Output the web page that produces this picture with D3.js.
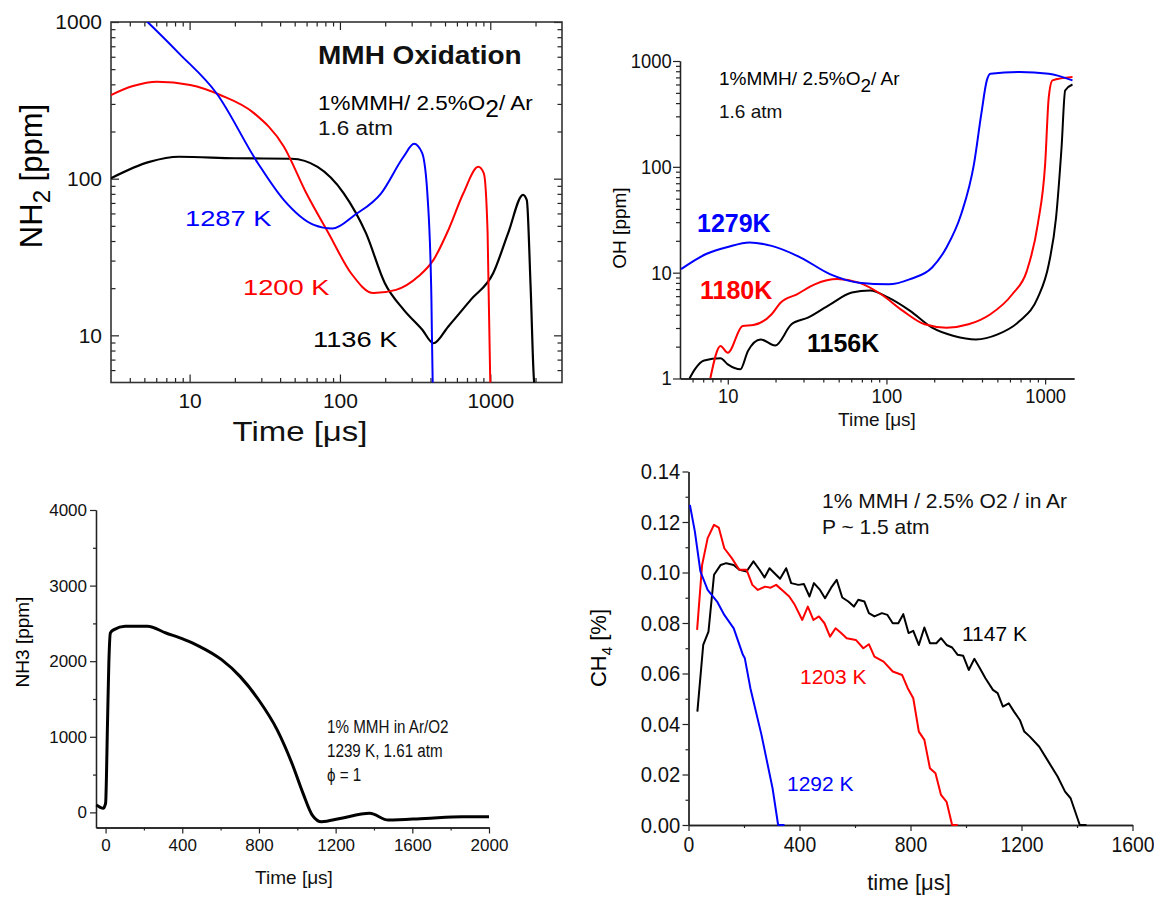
<!DOCTYPE html>
<html>
<head>
<meta charset="utf-8">
<script src="https://cdn.jsdelivr.net/npm/d3@7"></script>
<style>
  body { margin: 0; background: #fff; }
  svg text { font-family: "Liberation Sans", Arial, sans-serif; }
</style>
</head>
<body>
<svg id="fig" width="1154" height="897"></svg>
<script>
// ---- data ----
// top left: NH2 [ppm] vs time [us]
var nh2_1287 = [[4.5,1150],[5.25,1000],[8.5,631],[15.1,351],[28.4,126],[42.4,73],[67,50.7],[89,48],[126,58.8],[188,80.7],[265,138],[311,167],[352,146],[384,73],[406,16.9],[414,5],[420,4]];
var nh2_1200 = [[3.0,342],[4.2,390],[6.07,416],[10.1,396],[16,342],[26.8,262],[42.4,160],[59.8,80.8],[84,44.9],[118.6,24.9],[167.5,18.6],[236,19.5],[333,23.8],[419,30.3],[526,47],[662,80.7],[832,119],[906,108],[960,44.9],[1000,5],[1010,4]];
var nh2_1136 = [[3.0,100.7],[5.4,128],[8.5,138],[20,135],[47.5,134],[71,119],[106,80.7],[149,44.9],[199,21.5],[265,14.6],[352,10.9],[419,8.9],[526,11.4],[743,16.9],[1047,25],[1315,44.9],[1652,78.9],[1750,73],[1853,21],[1960,5],[2100,4]];

// top right: OH [ppm] vs time [us]
var oh_1279 = [[5.08,10.8],[7.3,15],[10,17.5],[13.7,19.3],[18.9,17.9],[28.8,13.9],[44,9.7],[67,8.05],[103,7.76],[141,8.7],[194,11.2],[239,17.3],[296,35.8],[356,106],[396,316],[429,656],[452,759],[690,787],[1054,759],[1487,656]];
var oh_1180 = [[7.76,1],[9.0,2.03],[10,1.75],[12.4,3.13],[14.5,3.2],[18.9,4.05],[21.5,5.2],[27.3,6.25],[35.6,7.8],[49,8.7],[67,8.05],[92.5,6.25],[127,4.35],[174,3.25],[239,3.02],[329,3.25],[452,4.05],[621,6.25],[767,10.4],[899,28.8],[1000,106],[1054,456],[1112,656],[1487,705]];
var oh_1156 = [[5.74,1],[6.2,1.22],[7.1,1.48],[9.0,1.55],[10,1.36],[12,1.22],[13.4,1.82],[16.1,2.34],[19.9,2.05],[25.2,3.25],[32,3.76],[44,5.0],[60.5,6.5],[78.8,6.8],[103,5.8],[141,4.35],[194,3.02],[266,2.52],[366,2.34],[502,2.61],[690,3.49],[899,5.8],[1054,12],[1172,33.3],[1269,153],[1337,527],[1487,600]];

// bottom left: NH3 [ppm] vs time [us]
var nh3_1239 = [[-48,97],[-30,70],[-13,53],[0,120],[10,1180],[17,1976],[25,2373],[44,2418],[102,2462],[218,2462],[315,2373],[411,2285],[489,2197],[605,2020],[701,1799],[798,1490],[895,1092],[972,650],[1030,252],[1078,-35],[1127,-124],[1223,-80],[1378,-13],[1475,-102],[1667,-80],[1860,-57],[2000,-57]];

// bottom right: CH4 [%] vs time [us]
var ch4_1292 = [[5,0.1268],[23,0.1162],[43,0.1004],[69,0.0931],[103,0.0885],[129,0.0832],[163,0.0779],[196,0.0674],[203,0.066],[223,0.0542],[243,0.0449],[263,0.0357],[283,0.0251],[303,0.0145],[323,0],[346,0]];
var ch4_1203 = [[31,0.0773],[49,0.103],[69,0.1136],[92,0.1189],[109,0.1178],[129,0.1096],[156,0.1057],[183,0.1011],[209,0.1011],[230,0.0951],[250,0.0931],[276,0.0944],[296,0.094],[316,0.0951],[343,0.0925],[363,0.0905],[383,0.0872],[410,0.0812],[430,0.0865],[450,0.0812],[470,0.0826],[490,0.0799],[510,0.0746],[530,0.0779],[550,0.076],[570,0.074],[603,0.0733],[630,0.07],[650,0.0716],[670,0.0667],[703,0.0647],[736,0.0608],[770,0.0594],[790,0.0542],[810,0.0502],[830,0.037],[850,0.0337],[870,0.0225],[890,0.0205],[910,0.0119],[930,0.0092],[950,0],[970,0]];
var ch4_1147 = [[32,0.0449],[53,0.0713],[72,0.0766],[92,0.0991],[116,0.103],[136,0.1037],[163,0.103],[183,0.1011],[209,0.1004],[234,0.1044],[256,0.1011],[274,0.098],[292,0.1017],[310,0.0997],[330,0.0975],[352,0.1017],[370,0.0958],[396,0.0951],[416,0.0954],[436,0.0905],[452,0.0958],[474,0.0931],[492,0.0898],[514,0.094],[534,0.0971],[554,0.0901],[576,0.0885],[596,0.0865],[612,0.0892],[634,0.0885],[650,0.0839],[670,0.0826],[697,0.0839],[717,0.0832],[736,0.0799],[756,0.0799],[774,0.0835],[793,0.076],[810,0.0769],[830,0.0713],[850,0.0782],[870,0.072],[893,0.072],[910,0.074],[930,0.0713],[950,0.0703],[970,0.0674],[990,0.067],[1010,0.0614],[1030,0.0658],[1050,0.0621],[1070,0.0581],[1097,0.0535],[1114,0.0522],[1133,0.0469],[1154,0.0482],[1173,0.0449],[1194,0.0416],[1210,0.037],[1230,0.035],[1264,0.031],[1297,0.0251],[1330,0.0192],[1357,0.0132],[1377,0.0106],[1410,0],[1434,0]];

// tick labels
var logMajor1 = [10, 100, 1000];
var logMajor2 = [1, 10, 100, 1000];
var nh3TimeTicks = [0, 400, 800, 1200, 1600, 2000];
var nh3Ticks = [0, 1000, 2000, 3000, 4000];
var ch4TimeTicks = [0, 400, 800, 1200, 1600];
var ch4Ticks = [0, 0.02, 0.04, 0.06, 0.08, 0.10, 0.12, 0.14];

var svg = d3.select("#fig");

function logMinors(lo, hi) {
  var out = [];
  for (var d = 1; d <= 1000; d *= 10)
    for (var k = 2; k <= 9; k++) { var v = k * d; if (v > lo && v < hi) out.push(v); }
  return out;
}
function styleAxis(sel, size, showDomain) {
  sel.selectAll("line").attr("stroke", "#222").attr("stroke-width", 1.2);
  sel.select(".domain").attr("stroke", showDomain ? "#222" : "none").attr("stroke-width", 1.3);
  sel.selectAll("text").attr("font-size", size).attr("fill", "#111");
  sel.attr("font-family", null);
}
function drawLine(g, data, x, y, color, w, curve) {
  g.append("path").datum(data)
    .attr("fill", "none").attr("stroke", color).attr("stroke-width", w)
    .attr("stroke-linejoin", "round")
    .attr("d", d3.line().x(function(d) { return x(d[0]); }).y(function(d) { return y(d[1]); }).curve(curve));
}
// text with optional horizontal stretch, to copy the odd letter widths of the scan
function label(g, x, y, size, sx, str, color, bold) {
  return g.append("text").attr("transform", "translate(" + x + "," + y + ") scale(" + sx + ",1)")
    .attr("font-size", size).attr("fill", color || "#111")
    .attr("font-weight", bold ? "bold" : null).text(str);
}

// ================= panel 1 : NH2 =================
var g1 = svg.append("g");
var x1 = d3.scaleLog().domain([3, 3000]).range([111, 562]);
var y1 = d3.scaleLog().domain([5, 1000]).range([382.5, 22]);
var xm1 = logMinors(3, 3000).filter(function(v) { return logMajor1.indexOf(v) < 0; });
var ym1 = logMinors(5, 1000).filter(function(v) { return logMajor1.indexOf(v) < 0; });

g1.append("clipPath").attr("id", "clip1").append("rect")
  .attr("x", 111).attr("y", 22).attr("width", 451).attr("height", 360.5);

[["axisBottom", "translate(0,382.5)", x1, xm1, true],
 ["axisTop", "translate(0,22)", x1, xm1, false],
 ["axisLeft", "translate(111,0)", y1, ym1, true],
 ["axisRight", "translate(562,0)", y1, ym1, false]].forEach(function(a) {
  var minor = g1.append("g").attr("transform", a[1])
    .call(d3[a[0]](a[2]).tickValues(a[3]).tickSize(-4.5).tickSizeOuter(0).tickFormat(""));
  styleAxis(minor, 20, false);
  var major = g1.append("g").attr("transform", a[1])
    .call(d3[a[0]](a[2]).tickValues(logMajor1).tickSize(-8).tickSizeOuter(0).tickPadding(a[0] == "axisLeft" ? 9 : 11)
      .tickFormat(a[4] ? d3.format("d") : ""));
  styleAxis(major, 21, false);
});
g1.append("rect").attr("x", 111).attr("y", 22).attr("width", 451).attr("height", 360.5)
  .attr("fill", "none").attr("stroke", "#333").attr("stroke-width", 1.6);

var c1 = g1.append("g").attr("clip-path", "url(#clip1)");
drawLine(c1, nh2_1136, x1, y1, "#000", 2.2, d3.curveMonotoneX);
drawLine(c1, nh2_1200, x1, y1, "#ff0000", 2, d3.curveMonotoneX);
drawLine(c1, nh2_1287, x1, y1, "#0000ff", 2, d3.curveMonotoneX);

label(g1, 300, 441, 27, 1.22, "Time [\u03BCs]").attr("text-anchor", "middle");
var t1 = g1.append("text").attr("transform", "translate(42,176) rotate(-90)")
  .attr("text-anchor", "middle").attr("font-size", 31);
t1.append("tspan").text("NH");
t1.append("tspan").attr("font-size", 24).attr("dy", 8).text("2");
t1.append("tspan").attr("dy", -8).text("  [ppm]");

label(g1, 318, 64, 25, 1.12, "MMH Oxidation", "#111", true);
var s1 = g1.append("text").attr("transform", "translate(318,110) scale(1.07,1)").attr("font-size", 21);
s1.append("tspan").text("1%MMH/ 2.5%O");
s1.append("tspan").attr("dy", 7).attr("font-size", 23).text("2");
s1.append("tspan").attr("dy", -7).text("/ Ar");
label(g1, 318, 135, 21, 1.07, "1.6 atm");

label(g1, 185, 226, 22, 1.24, "1287 K", "#0000ff");
label(g1, 243, 295, 22, 1.24, "1200 K", "#ff0000");
label(g1, 313, 347, 22, 1.24, "1136 K", "#000");

// ================= panel 2 : OH =================
var g2 = svg.append("g");
var x2 = d3.scaleLog().domain([5, 1520]).range([680, 1074]);
var y2 = d3.scaleLog().domain([1, 1000]).range([378.5, 61]);

g2.append("clipPath").attr("id", "clip2").append("rect")
  .attr("x", 680).attr("y", 58).attr("width", 394).attr("height", 320.5);

var ax2m = g2.append("g").attr("transform", "translate(0,378.5)")
  .call(d3.axisBottom(x2).tickValues(logMinors(5, 1520).filter(function(v) { return logMajor2.indexOf(v) < 0; }))
    .tickSize(4).tickSizeOuter(0).tickFormat(""));
styleAxis(ax2m, 19, true);
var ax2 = g2.append("g").attr("transform", "translate(0,378.5)")
  .call(d3.axisBottom(x2).tickValues(logMajor1).tickSize(6).tickSizeOuter(0).tickPadding(4).tickFormat(d3.format("d")));
styleAxis(ax2, 20, true);
var ay2m = g2.append("g").attr("transform", "translate(680,0)")
  .call(d3.axisLeft(y2).tickValues(logMinors(1, 1000).filter(function(v) { return logMajor2.indexOf(v) < 0; }))
    .tickSize(4).tickSizeOuter(0).tickFormat(""));
styleAxis(ay2m, 19, true);
var ay2 = g2.append("g").attr("transform", "translate(680,0)")
  .call(d3.axisLeft(y2).tickValues(logMajor2).tickSize(7).tickSizeOuter(0).tickPadding(2).tickFormat(d3.format("d")));
styleAxis(ay2, 20, true);
ax2.selectAll("text").attr("transform", "scale(0.92,1)");
ay2.selectAll("text").attr("transform", "scale(0.92,1)");

var c2 = g2.append("g").attr("clip-path", "url(#clip2)");
drawLine(c2, oh_1156, x2, y2, "#000", 2, d3.curveMonotoneX);
drawLine(c2, oh_1180, x2, y2, "#ff0000", 2, d3.curveMonotoneX);
drawLine(c2, oh_1279, x2, y2, "#0000ff", 2, d3.curveMonotoneX);

label(g2, 877, 426, 19, 1, "Time [\u03BCs]").attr("text-anchor", "middle");
g2.append("text").attr("transform", "translate(626,228) rotate(-90)").attr("text-anchor", "middle")
  .attr("font-size", 19).text("OH  [ppm]");
var s2 = g2.append("text").attr("transform", "translate(719,85)").attr("font-size", 19);
s2.append("tspan").text("1%MMH/ 2.5%O");
s2.append("tspan").attr("dy", 7).text("2");
s2.append("tspan").attr("dy", -7).text("/ Ar");
label(g2, 719, 118, 19, 1, "1.6 atm");

label(g2, 697, 232, 25, 1, "1279K", "#0000ff", true);
label(g2, 700, 299, 25, 1, "1180K", "#ff0000", true);
label(g2, 807, 352, 25, 1, "1156K", "#000", true);

// ================= panel 3 : NH3 =================
var g3 = svg.append("g");
var x3 = d3.scaleLinear().domain([-50, 2000]).range([96, 489]);
var y3 = d3.scaleLinear().domain([-200, 4000]).range([827.5, 510]);

var ax3m = g3.append("g").attr("transform", "translate(0,827.5)")
  .call(d3.axisBottom(x3).tickValues([200, 600, 1000, 1400, 1800]).tickSize(3).tickSizeOuter(0).tickFormat(""));
styleAxis(ax3m, 17, true);
var ax3 = g3.append("g").attr("transform", "translate(0,827.5)")
  .call(d3.axisBottom(x3).tickValues(nh3TimeTicks).tickSize(6).tickSizeOuter(0).tickPadding(5).tickFormat(d3.format("d")));
styleAxis(ax3, 17, true);
var ay3m = g3.append("g").attr("transform", "translate(96,0)")
  .call(d3.axisLeft(y3).tickValues([500, 1500, 2500, 3500]).tickSize(3).tickSizeOuter(0).tickFormat(""));
styleAxis(ay3m, 17, true);
var ay3 = g3.append("g").attr("transform", "translate(96,0)")
  .call(d3.axisLeft(y3).tickValues(nh3Ticks).tickSize(6).tickSizeOuter(0).tickPadding(3).tickFormat(d3.format("d")));
styleAxis(ay3, 17, true);

drawLine(g3, nh3_1239, x3, y3, "#000", 3, d3.curveMonotoneX);

label(g3, 294, 884, 19, 1, "Time [\u03BCs]").attr("text-anchor", "middle");
g3.append("text").attr("transform", "translate(29,642) rotate(-90)").attr("text-anchor", "middle")
  .attr("font-size", 19).text("NH3  [ppm]");
label(g3, 327, 733, 19, 0.8, "1% MMH in Ar/O2");
label(g3, 327, 757, 19, 0.8, "1239 K, 1.61 atm");
label(g3, 327, 781, 19, 0.8, "\u03D5 = 1");

// ================= panel 4 : CH4 =================
var g4 = svg.append("g");
var x4 = d3.scaleLinear().domain([0, 1600]).range([688.5, 1132.5]);
var y4 = d3.scaleLinear().domain([0, 0.14]).range([825, 471.5]);

var ax4m = g4.append("g").attr("transform", "translate(0,825)")
  .call(d3.axisBottom(x4).tickValues([200, 600, 1000, 1400]).tickSize(3).tickSizeOuter(0).tickFormat(""));
styleAxis(ax4m, 21, true);
var ax4 = g4.append("g").attr("transform", "translate(0,825)")
  .call(d3.axisBottom(x4).tickValues(ch4TimeTicks).tickSize(6).tickSizeOuter(0).tickPadding(5).tickFormat(d3.format("d")));
styleAxis(ax4, 22, true);
var ay4m = g4.append("g").attr("transform", "translate(688.5,0)")
  .call(d3.axisLeft(y4).tickValues([0.01, 0.03, 0.05, 0.07, 0.09, 0.11, 0.13]).tickSize(3).tickSizeOuter(0).tickFormat(""));
styleAxis(ay4m, 21, true);
var ay4 = g4.append("g").attr("transform", "translate(688.5,0)")
  .call(d3.axisLeft(y4).tickValues(ch4Ticks).tickSize(6).tickSizeOuter(0).tickPadding(3).tickFormat(d3.format(".2f")));
styleAxis(ay4, 22, true);
ax4.selectAll("text").attr("transform", "scale(0.88,1)");
ay4.selectAll("text").attr("transform", "scale(0.92,1)");

drawLine(g4, ch4_1147, x4, y4, "#000", 2, d3.curveLinear);
drawLine(g4, ch4_1203, x4, y4, "#ff0000", 2, d3.curveLinear);
drawLine(g4, ch4_1292, x4, y4, "#0000ff", 2, d3.curveLinear);

label(g4, 909, 890, 22, 1, "time [\u03BCs]").attr("text-anchor", "middle");
var t4 = g4.append("text").attr("transform", "translate(606,648) rotate(-90)").attr("text-anchor", "middle").attr("font-size", 22);
t4.append("tspan").text("CH");
t4.append("tspan").attr("font-size", 15).attr("dy", 6).text("4");
t4.append("tspan").attr("dy", -6).text(" [%]");
label(g4, 822, 508, 21, 1, "1% MMH / 2.5% O2 / in Ar");
label(g4, 822, 534, 21, 1, "P ~ 1.5 atm");
label(g4, 962, 641, 21, 1, "1147 K", "#000");
label(g4, 800, 684, 21, 1, "1203 K", "#ff0000");
label(g4, 787, 791, 21, 1, "1292 K", "#0000ff");
</script>
</body>
</html>
